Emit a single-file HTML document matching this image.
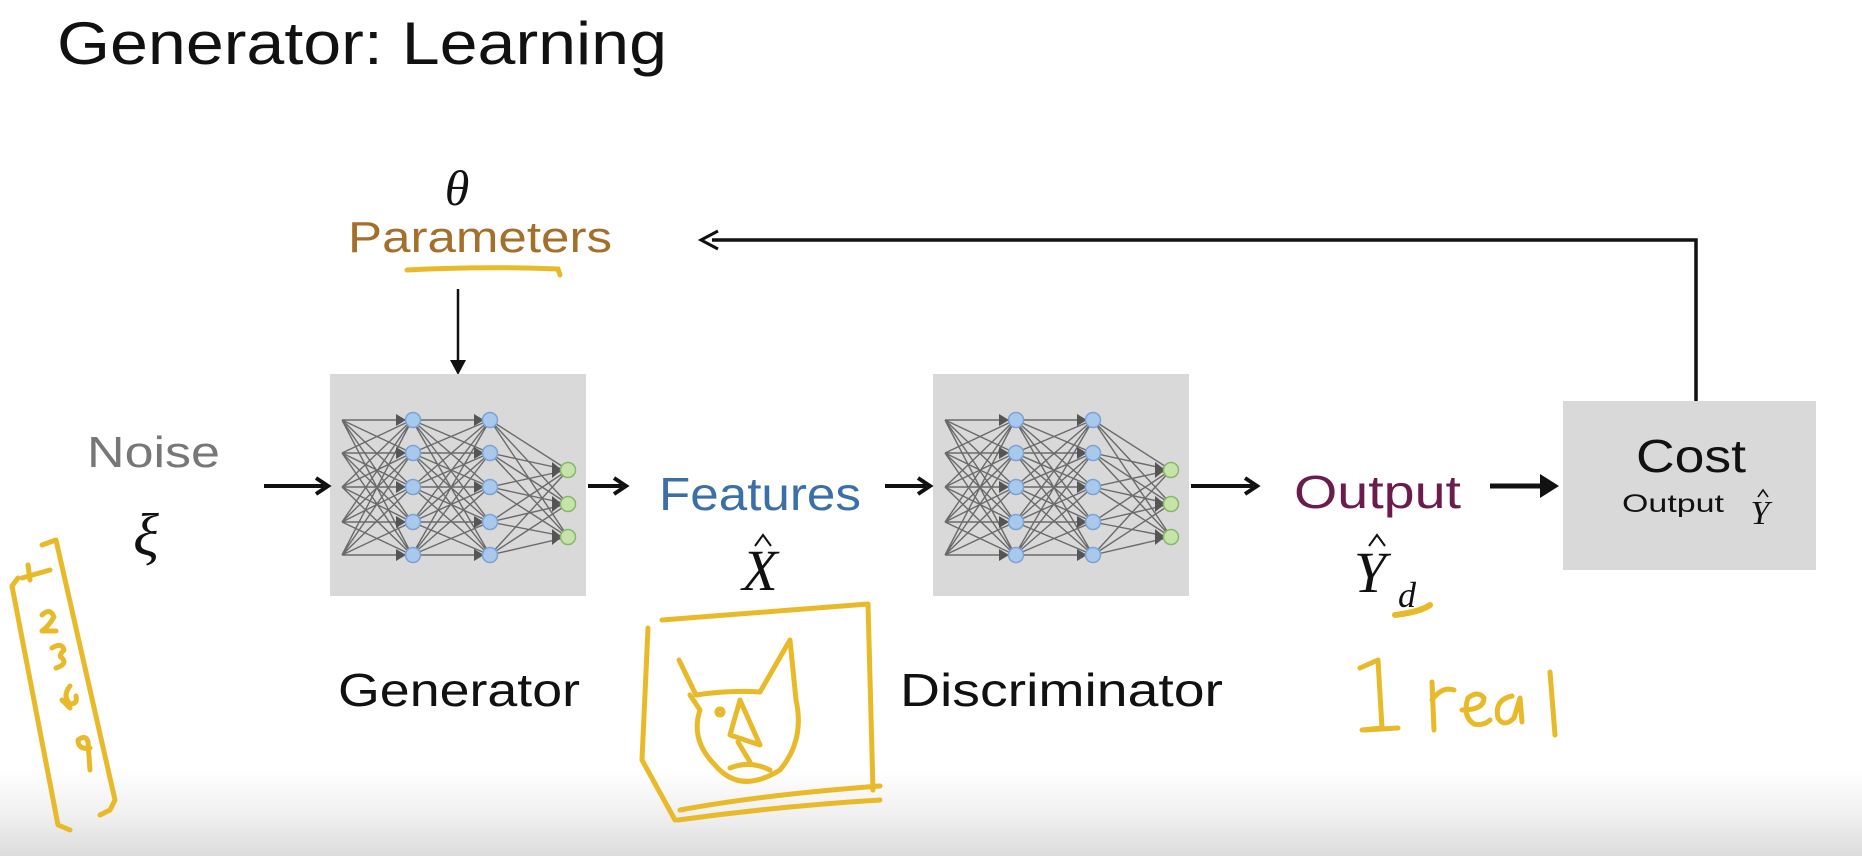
<!DOCTYPE html>
<html><head><meta charset="utf-8"><style>
html,body{margin:0;padding:0;}
body{width:1862px;height:856px;position:relative;overflow:hidden;background:linear-gradient(to bottom,#fff 0,#fff 770px,#f0f0f0 815px,#dcdcdc 856px);font-family:"Liberation Sans",sans-serif;}
svg{position:absolute;left:0;top:0;}
</style></head><body>
<svg width="1862" height="856" viewBox="0 0 1862 856">
<defs>
<g id="net">
  <g stroke="#6a6a6a" stroke-width="1.4" fill="none">
    <path d="M12 46L82 46M12 46L82 79M12 46L82 113M12 46L82 148M12 46L82 181
             M12 79L82 46M12 79L82 79M12 79L82 113M12 79L82 148M12 79L82 181
             M12 113L82 46M12 113L82 79M12 113L82 113M12 113L82 148M12 113L82 181
             M12 148L82 46M12 148L82 79M12 148L82 113M12 148L82 148M12 148L82 181
             M12 181L82 46M12 181L82 79M12 181L82 113M12 181L82 148M12 181L82 181"/>
    <path d="M82 46L160 46M82 46L160 79M82 46L160 113M82 46L160 148M82 46L160 181
             M82 79L160 46M82 79L160 79M82 79L160 113M82 79L160 148M82 79L160 181
             M82 113L160 46M82 113L160 79M82 113L160 113M82 113L160 148M82 113L160 181
             M82 148L160 46M82 148L160 79M82 148L160 113M82 148L160 148M82 148L160 181
             M82 181L160 46M82 181L160 79M82 181L160 113M82 181L160 148M82 181L160 181"/>
    <path d="M160 46L238 96M160 46L238 130M160 46L238 163
             M160 79L238 96M160 79L238 130M160 79L238 163
             M160 113L238 96M160 113L238 130M160 113L238 163
             M160 148L238 96M160 148L238 130M160 148L238 163
             M160 181L238 96M160 181L238 130M160 181L238 163"/>
  </g>
  <g fill="#555">
    <path d="M66 40l10 6-10 6zM66 73l10 6-10 6zM66 107l10 6-10 6zM66 142l10 6-10 6zM66 175l10 6-10 6z"/>
    <path d="M144 40l10 6-10 6zM144 73l10 6-10 6zM144 107l10 6-10 6zM144 142l10 6-10 6zM144 175l10 6-10 6z"/>
    <path d="M222 88l10 8-10 8zM222 122l10 8-10 8zM222 155l10 8-10 8z"/>
  </g>
  <g fill="#a9c8ee" stroke="#7ba3d3" stroke-width="1.5">
    <circle cx="83" cy="46" r="7.5"/><circle cx="83" cy="79" r="7.5"/><circle cx="83" cy="113" r="7.5"/><circle cx="83" cy="148" r="7.5"/><circle cx="83" cy="181" r="7.5"/>
    <circle cx="160" cy="46" r="7.5"/><circle cx="160" cy="79" r="7.5"/><circle cx="160" cy="113" r="7.5"/><circle cx="160" cy="148" r="7.5"/><circle cx="160" cy="181" r="7.5"/>
  </g>
  <g fill="#c6e4aa" stroke="#86b866" stroke-width="1.5">
    <circle cx="238" cy="96" r="7.5"/><circle cx="238" cy="130" r="7.5"/><circle cx="238" cy="163" r="7.5"/>
  </g>
</g>
</defs>

<text x="57" y="64" font-size="60" fill="#111" textLength="610" lengthAdjust="spacingAndGlyphs">Generator: Learning</text>

<text x="457" y="205" font-size="50" font-style="italic" font-family="Liberation Serif,serif" text-anchor="middle" fill="#111">θ</text>
<text x="348" y="252" font-size="44" fill="#a36f2b" textLength="264" lengthAdjust="spacingAndGlyphs">Parameters</text>
<path d="M407 270 Q480 266 558 269 L560 275" stroke="#e8b928" stroke-width="5" fill="none" stroke-linecap="round"/>

<line x1="458" y1="289" x2="458" y2="366" stroke="#111" stroke-width="2.5"/>
<path d="M450 360 L458 375 L466 360 Z" fill="#111"/>

<path d="M1696 401 L1696 240 L712 240" stroke="#111" stroke-width="3.5" fill="none"/>
<path d="M718 231 L701 240 L718 249" stroke="#111" stroke-width="3" fill="none"/>

<rect x="330" y="374" width="256" height="222" fill="#d9d9d9"/>
<rect x="933" y="374" width="256" height="222" fill="#d9d9d9"/>
<rect x="1563" y="401" width="253" height="169" fill="#d9d9d9"/>
<use href="#net" x="330" y="374"/>
<use href="#net" x="933" y="374"/>

<g stroke="#111" stroke-width="4" fill="none">
<line x1="264" y1="486" x2="324" y2="486"/><path d="M316 478 L328 486 L316 494"/>
<line x1="588" y1="486" x2="622" y2="486"/><path d="M614 478 L626 486 L614 494"/>
<line x1="885" y1="486" x2="926" y2="486"/><path d="M918 478 L930 486 L918 494"/>
<line x1="1191" y1="486" x2="1253" y2="486"/><path d="M1245 478 L1257 486 L1245 494"/>
</g>
<line x1="1490" y1="486" x2="1548" y2="486" stroke="#111" stroke-width="5"/>
<path d="M1540 474 L1559 486 L1540 498 Z" fill="#111"/>

<text x="87" y="467" font-size="44" fill="#777" textLength="133" lengthAdjust="spacingAndGlyphs">Noise</text>
<text x="146" y="555" font-size="60" font-style="italic" font-family="Liberation Serif,serif" fill="#111" text-anchor="middle">ξ</text>

<text x="659" y="510" font-size="46" fill="#3b6fa8" textLength="202" lengthAdjust="spacingAndGlyphs">Features</text>
<text x="760" y="590" font-size="58" font-style="italic" font-family="Liberation Serif,serif" fill="#111" text-anchor="middle">X</text>
<path d="M755 546 L763 535 L771 546" stroke="#111" stroke-width="2" fill="none"/>

<text x="1294" y="508" font-size="46" fill="#6b1b4c" textLength="167" lengthAdjust="spacingAndGlyphs">Output</text>
<text x="1370" y="592" font-size="58" font-style="italic" font-family="Liberation Serif,serif" fill="#111" text-anchor="middle">Y</text>
<text x="1398" y="607" font-size="36" font-style="italic" font-family="Liberation Serif,serif" fill="#111">d</text>
<path d="M1369 546 L1377 535 L1385 546" stroke="#111" stroke-width="2" fill="none"/>
<path d="M1395 615 Q1420 612 1430 605" stroke="#e8b928" stroke-width="6" fill="none" stroke-linecap="round"/>

<text x="1636" y="472" font-size="46" fill="#111" textLength="110" lengthAdjust="spacingAndGlyphs">Cost</text>
<text x="1622" y="512" font-size="25" fill="#111" textLength="102" lengthAdjust="spacingAndGlyphs">Output</text>
<text x="1760" y="524" font-size="34" font-style="italic" font-family="Liberation Serif,serif" fill="#111" text-anchor="middle">Y</text>
<path d="M1758 497 L1763 490 L1768 497" stroke="#111" stroke-width="1.6" fill="none"/>

<text x="338" y="706" font-size="46" fill="#111" textLength="242" lengthAdjust="spacingAndGlyphs">Generator</text>
<text x="900" y="706" font-size="46" fill="#111" textLength="323" lengthAdjust="spacingAndGlyphs">Discriminator</text>

<g stroke="#e8b928" stroke-width="5" fill="none" stroke-linecap="round" stroke-linejoin="round">
  <path d="M18 578 L12 586 L58 825 L70 830 M22 578 L50 570 M42 545 L56 540 L115 800 L110 810 L100 815"/>
  <path d="M28 565 L30 580"/>
  <path d="M42 615 q8-8 12 2 q-6 10-12 14 l14 0"/>
  <path d="M52 648 q10-6 12 2 q-6 6-2 8 q6 6-6 10"/>
  <path d="M62 700 l8 8 M70 686 q-8 10 0 18 q8 0 6-8"/>
  <path d="M78 740 q8-6 10 2 l2 28 M78 740 q0 10 12 8"/>
  <path d="M648 628 L642 760 L675 820 M662 620 Q760 612 868 604 L873 790 M680 810 Q760 795 880 786 M678 820 Q780 806 880 800"/>
  <path d="M679 660 L696 695 Q730 690 760 692 L790 640 L796 700 Q805 740 780 770 Q740 795 715 765 Q690 740 700 710 L690 695"/>
  <path d="M740 700 L760 745 L730 735 Z M738 742 L750 762 M730 768 Q750 760 770 770"/>
  <circle cx="720" cy="712" r="3"/>
  <path d="M1360 668 L1378 660 L1382 728 L1362 730 M1365 730 L1398 728"/>
  <path d="M1432 682 L1434 730 M1432 700 q10-14 22-10"/>
  <path d="M1462 710 q22 0 22-12 q-6-8-16 0 q-6 18 6 26 q10 2 16-4"/>
  <path d="M1512 696 q-18 4-14 22 q6 10 16 0 l6-20 l2 24"/>
  <path d="M1550 672 L1555 735"/>
</g>
</svg>
</body></html>
